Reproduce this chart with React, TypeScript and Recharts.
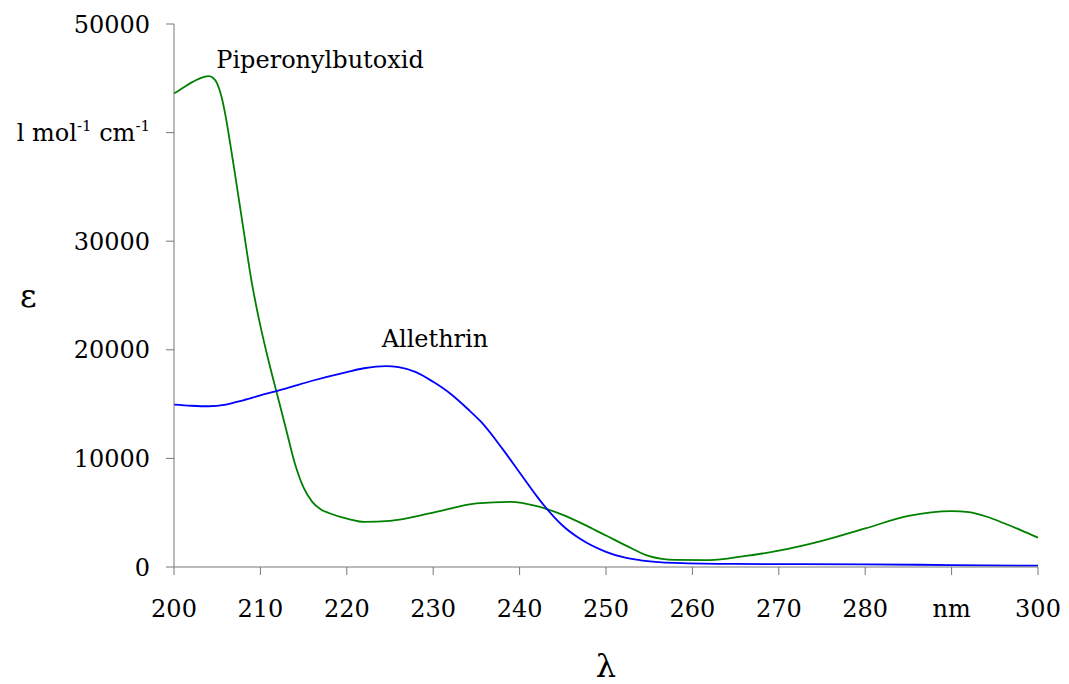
import { LineChart, Line, XAxis, YAxis, ReferenceDot, Label } from 'recharts';

// wavelength (nm) / molar absorptivity (l mol-1 cm-1)
const piperonylNm = [
  200, 201, 202, 203, 204, 204.5, 205, 205.5, 206, 206.5, 207, 208, 209, 210, 211, 212,
  213, 214, 215, 216, 217, 218, 220, 222, 225, 230, 235, 239, 242, 245, 248, 250,
  253, 255, 258, 262, 266, 270, 275, 280, 285, 290, 292, 294, 296, 298, 300,
];
const piperonylEps = [
  43600, 44100, 44600, 45000, 45200, 45050, 44500, 43300, 41400, 39000, 36500, 31300, 26200, 22200, 18800, 15700,
  12600, 9500, 7300, 6000, 5300, 4950, 4450, 4150, 4250, 5000, 5850, 6000, 5600, 4800, 3700, 2900,
  1700, 1000, 650, 640, 1000, 1500, 2400, 3550, 4700, 5150, 5050, 4650, 4050, 3400, 2700,
];

const allethrinNm = [
  200, 202, 204, 206, 208, 210, 213, 216, 220, 222, 224.5, 226, 228, 230, 232, 234,
  235.5, 238, 240, 242, 243, 244, 245, 247, 250, 252, 254, 258, 265, 280, 290, 300,
];
const allethrinEps = [
  14950, 14850, 14800, 14950, 15350, 15800, 16450, 17150, 17950, 18300, 18500, 18400, 17950, 17050, 15950, 14550,
  13400, 10900, 8700, 6500, 5500, 4600, 3800, 2600, 1400, 900, 620, 380, 280, 250, 180, 120,
];

const xTicks = [200, 210, 220, 230, 240, 250, 260, 270, 280, 290, 300];
const yTicks = [0, 10000, 20000, 30000, 40000, 50000];

const piperonyl = piperonylNm.map((nm, i) => ({ nm, eps: piperonylEps[i] }));
const allethrin = allethrinNm.map((nm, i) => ({ nm, eps: allethrinEps[i] }));

const FONT = "'DejaVu Serif', serif";
const FS = 24;
const serif = { fontFamily: FONT };

function YTick(props: any) {
  const { x, y, payload } = props;
  if (payload.value === 40000) {
    return (
      <text x={x} y={y} dy="0.355em" textAnchor="end" style={serif} fontSize={FS} fill="#000">
        l mol<tspan dy={-10} fontSize={15}>-1</tspan>
        <tspan dy={10}> cm</tspan>
        <tspan dy={-10} fontSize={15}>-1</tspan>
      </text>
    );
  }
  return (
    <text x={x} y={y} dy="0.355em" textAnchor="end" style={serif} fontSize={FS} fill="#000">
      {payload.value}
    </text>
  );
}

export default function App() {
  return (
    <div style={{ position: 'absolute', left: 0, top: 0, background: '#fff', fontFamily: FONT }}>
      <LineChart width={1069} height={684} margin={{ top: 24, right: 31, bottom: 0, left: 0 }} style={serif}>
        <XAxis
          type="number"
          dataKey="nm"
          domain={[200, 300]}
          ticks={xTicks}
          allowDuplicatedCategory={false}
          tickFormatter={(v: number) => (v === 290 ? 'nm' : String(v))}
          height={117}
          tickSize={8}
          tickMargin={25}
          stroke="#777"
          tick={{ fill: '#000', fontSize: FS, style: serif }}
        >
          <Label value="λ" position="insideBottom" offset={7} fill="#000" fontSize={32} style={serif} />
        </XAxis>
        <YAxis
          type="number"
          domain={[0, 50000]}
          ticks={yTicks}
          width={174}
          tickSize={8}
          tickMargin={16}
          stroke="#777"
          tick={<YTick />}
        >
          <Label value="ε" position="insideLeft" offset={20} fill="#000" fontSize={32} style={serif} />
        </YAxis>
        <Line
          data={piperonyl}
          dataKey="eps"
          type="monotone"
          stroke="#008000"
          strokeWidth={1.8}
          dot={false}
          isAnimationActive={false}
        />
        <Line
          data={allethrin}
          dataKey="eps"
          type="monotone"
          stroke="#0000ff"
          strokeWidth={1.8}
          dot={false}
          isAnimationActive={false}
        />
        <ReferenceDot
          x={216.9}
          y={46700}
          r={0}
          stroke="none"
          label={{ value: 'Piperonylbutoxid', position: 'center', fill: '#000', fontSize: FS, style: serif }}
        />
        <ReferenceDot
          x={230.2}
          y={21000}
          r={0}
          stroke="none"
          label={{ value: 'Allethrin', position: 'center', fill: '#000', fontSize: FS, style: serif }}
        />
      </LineChart>
    </div>
  );
}
